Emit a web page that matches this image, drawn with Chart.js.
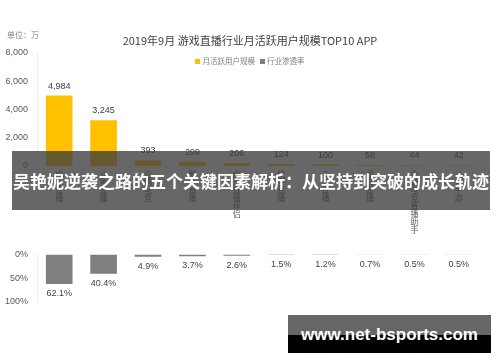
<!DOCTYPE html>
<html>
<head>
<meta charset="utf-8">
<script src="https://cdn.jsdelivr.net/npm/chart.js@4/dist/chart.umd.min.js"></script>
<style>
  body { margin: 0; background: #fff; font-family: "Noto Sans CJK SC", "Noto Sans", sans-serif; }
  #wrap { position: relative; width: 500px; height: 362px; overflow: hidden; background: #fff; }
  #topChart { position: absolute; left: 0; top: 0; }
  #botChart { position: absolute; left: 0; top: 240px; }
  .unit { position: absolute; left: 7px; top: 29px; font-size: 8px; color: #7f7f7f; }
  .title { position: absolute; left: 0; width: 500px; top: 32px; text-align: center; font-size: 11px; color: #404040; }
  .legend { position: absolute; left: 0; width: 500px; top: 55px; text-align: center; font-size: 7.5px; color: #7f7f7f; }
  .legend span.sq { display: inline-block; width: 5px; height: 5px; margin-right: 2px; vertical-align: 0px; }
  .banner { position: absolute; left: 12px; top: 151px; width: 478px; height: 59px; background: rgba(60,60,60,0.78);
            color: #fff; font-weight: bold; font-size: 17px; line-height: 59px; text-align: center; white-space: nowrap; z-index: 5; }
  .mark { position: absolute; left: 288px; top: 315px; width: 203px; height: 38px; z-index: 5;
          background: linear-gradient(#666 0, #666 52%, #000 52%, #000 100%); color: #fff; font-weight: bold;
          font-size: 17px; line-height: 40px; text-align: center; font-family: "Liberation Sans", Arial, sans-serif; white-space: nowrap; }
</style>
</head>
<body>
<div id="wrap">
  <canvas id="topChart" width="500" height="240"></canvas>
  <canvas id="botChart" width="500" height="122"></canvas>
  <div class="unit">单位：万</div>
  <div class="title">2019年9月 游戏直播行业月活跃用户规模TOP10 APP</div>
  <div class="legend"><span class="sq" style="background:#FFC000"></span>月活跃用户规模&nbsp;&nbsp;&nbsp;<span class="sq" style="background:#7f7f7f"></span>行业渗透率</div>
  <div class="banner">吴艳妮逆袭之路的五个关键因素解析：从坚持到突破的成长轨迹</div>
  <div class="mark">www.net-bsports.com</div>
</div>
<script>
// chart data
var apps = ['虎牙直播', '斗鱼直播', '企鹅电竞', '触手直播', '虎牙直播伴侣', '快手直播', 'CC直播', '龙珠直播', '企鹅电竞直播助手', '斗鱼手游'];
var activeUsers = [4984, 3245, 393, 299, 206, 124, 100, 58, 44, 42];
var penetration = [62.1, 40.4, 4.9, 3.7, 2.6, 1.5, 1.2, 0.7, 0.5, 0.5];
var userTicks = [0, 2000, 4000, 6000, 8000];
var rateTicks = [0, 50, 100];

// labels on the bars
var valueLabels = {
    id: 'valueLabels',
    afterDatasetsDraw: function(chart, args, opts) {
        var ctx = chart.ctx;
        var meta = chart.getDatasetMeta(0);
        ctx.save();
        ctx.font = '9px "Liberation Sans", Arial, sans-serif';
        ctx.fillStyle = '#404040';
        ctx.textAlign = 'center';
        meta.data.forEach(function(bar, i) {
            var v = chart.data.datasets[0].data[i];
            if (opts.below) {
                ctx.textBaseline = 'top';
                ctx.fillText(v.toFixed(1) + '%', bar.x, bar.y + 5);
            } else {
                ctx.textBaseline = 'bottom';
                ctx.fillText(v.toLocaleString('en-US'), bar.x, bar.y - 5);
            }
        });
        ctx.restore();
    }
};

var tickFont = { size: 9, family: '"Liberation Sans", Arial, sans-serif' };

var topChart = new Chart(document.getElementById('topChart'), {
    type: 'bar',
    data: {
        labels: apps,
        datasets: [{
            label: '月活跃用户规模',
            data: activeUsers,
            backgroundColor: '#FFC000',
            categoryPercentage: 1,
            barPercentage: 0.6
        }]
    },
    options: {
        responsive: false,
        animation: false,
        layout: { padding: { top: 53, right: 19, left: 0, bottom: 0 } },
        plugins: { legend: { display: false }, tooltip: { enabled: false }, valueLabels: { below: false } },
        scales: {
            x: {
                grid: { display: false, drawTicks: false },
                border: { display: false },
                ticks: {
                    color: '#595959',
                    font: { size: 8, family: '"Noto Sans CJK SC", sans-serif', lineHeight: 1.0 },
                    maxRotation: 0, minRotation: 0, autoSkip: false, padding: 4,
                    callback: function(val) { return this.getLabelForValue(val).split(''); }
                },
                afterFit: function(s) { s.height = 74; }
            },
            y: {
                min: 0, max: 8000,
                afterBuildTicks: function(s) { s.ticks = userTicks.map(function(v) { return { value: v }; }); },
                grid: { display: false, drawTicks: false },
                border: { display: true, color: '#ececec' },
                ticks: {
                    color: '#595959', font: tickFont, padding: 9,
                    callback: function(v) { return v.toLocaleString('en-US'); }
                },
                afterFit: function(s) { s.width = 37; }
            }
        }
    },
    plugins: [valueLabels]
});

var botChart = new Chart(document.getElementById('botChart'), {
    type: 'bar',
    data: {
        labels: apps,
        datasets: [{
            label: '行业渗透率',
            data: penetration,
            backgroundColor: '#7f7f7f',
            categoryPercentage: 1,
            barPercentage: 0.6
        }]
    },
    options: {
        responsive: false,
        animation: false,
        layout: { padding: { top: 11, right: 19, left: 0, bottom: 60 } },
        plugins: { legend: { display: false }, tooltip: { enabled: false }, valueLabels: { below: true } },
        scales: {
            x: { display: false },
            y: {
                reverse: true, min: 0, max: 100,
                afterBuildTicks: function(s) { s.ticks = rateTicks.map(function(v) { return { value: v }; }); },
                grid: { display: false, drawTicks: false },
                border: { display: true, color: '#ececec' },
                ticks: {
                    color: '#595959', font: tickFont, padding: 9,
                    callback: function(v) { return v + '%'; }
                },
                afterFit: function(s) { s.width = 37; }
            }
        }
    },
    plugins: [valueLabels]
});
</script>
</body>
</html>
